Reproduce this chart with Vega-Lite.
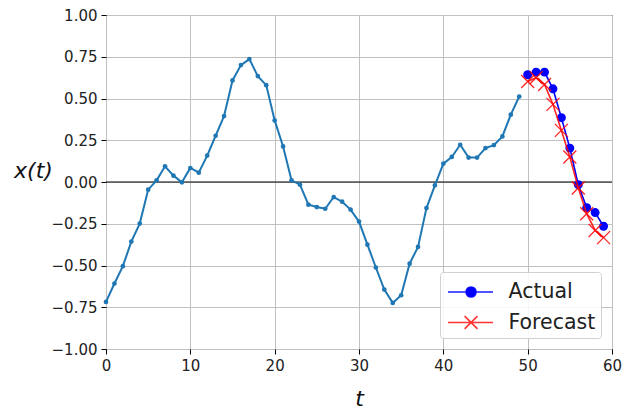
{
  "$schema": "https://vega.github.io/schema/vega-lite/v6.json",
  "width": 506,
  "height": 334,
  "autosize": {"type": "none"},
  "padding": {"left": 106, "top": 15, "right": 12, "bottom": 63},
  "background": "white",
  "config": {
    "view": {"stroke": "black", "strokeWidth": 1},
    "font": "DejaVu Sans",
    "axis": {
      "labelFont": "DejaVu Sans",
      "labelFontSize": 15,
      "labelColor": "#222",
      "labelFlush": false,
      "labelOverlap": false,
      "tickColor": "black",
      "tickSize": 5,
      "labelPadding": 4,
      "domain": false,
      "grid": true,
      "gridColor": "#c0c0c0",
      "gridWidth": 1,
      "titleFont": "DejaVu Sans",
      "titleFontSize": 22,
      "titleFontStyle": "italic",
      "titleFontWeight": "normal",
      "titleColor": "#111"
    }
  },
  "data": {
    "values": [
      {"t": 0, "v": -0.718, "s": "series"},
      {"t": 1, "v": -0.608, "s": "series"},
      {"t": 2, "v": -0.504, "s": "series"},
      {"t": 3, "v": -0.357, "s": "series"},
      {"t": 4, "v": -0.249, "s": "series"},
      {"t": 5, "v": -0.046, "s": "series"},
      {"t": 6, "v": 0.01, "s": "series"},
      {"t": 7, "v": 0.094, "s": "series"},
      {"t": 8, "v": 0.038, "s": "series"},
      {"t": 9, "v": -0.002, "s": "series"},
      {"t": 10, "v": 0.084, "s": "series"},
      {"t": 11, "v": 0.056, "s": "series"},
      {"t": 12, "v": 0.158, "s": "series"},
      {"t": 13, "v": 0.277, "s": "series"},
      {"t": 14, "v": 0.395, "s": "series"},
      {"t": 15, "v": 0.608, "s": "series"},
      {"t": 16, "v": 0.70, "s": "series"},
      {"t": 17, "v": 0.736, "s": "series"},
      {"t": 18, "v": 0.634, "s": "series"},
      {"t": 19, "v": 0.58, "s": "series"},
      {"t": 20, "v": 0.369, "s": "series"},
      {"t": 21, "v": 0.213, "s": "series"},
      {"t": 22, "v": 0.01, "s": "series"},
      {"t": 23, "v": -0.016, "s": "series"},
      {"t": 24, "v": -0.136, "s": "series"},
      {"t": 25, "v": -0.15, "s": "series"},
      {"t": 26, "v": -0.16, "s": "series"},
      {"t": 27, "v": -0.09, "s": "series"},
      {"t": 28, "v": -0.118, "s": "series"},
      {"t": 29, "v": -0.165, "s": "series"},
      {"t": 30, "v": -0.237, "s": "series"},
      {"t": 31, "v": -0.375, "s": "series"},
      {"t": 32, "v": -0.512, "s": "series"},
      {"t": 33, "v": -0.644, "s": "series"},
      {"t": 34, "v": -0.724, "s": "series"},
      {"t": 35, "v": -0.678, "s": "series"},
      {"t": 36, "v": -0.489, "s": "series"},
      {"t": 37, "v": -0.389, "s": "series"},
      {"t": 38, "v": -0.156, "s": "series"},
      {"t": 39, "v": -0.02, "s": "series"},
      {"t": 40, "v": 0.11, "s": "series"},
      {"t": 41, "v": 0.15, "s": "series"},
      {"t": 42, "v": 0.223, "s": "series"},
      {"t": 43, "v": 0.146, "s": "series"},
      {"t": 44, "v": 0.146, "s": "series"},
      {"t": 45, "v": 0.203, "s": "series"},
      {"t": 46, "v": 0.221, "s": "series"},
      {"t": 47, "v": 0.273, "s": "series"},
      {"t": 48, "v": 0.403, "s": "series"},
      {"t": 49, "v": 0.512, "s": "series"},
      {"t": 50, "v": 0.642, "s": "Actual"},
      {"t": 51, "v": 0.658, "s": "Actual"},
      {"t": 52, "v": 0.658, "s": "Actual"},
      {"t": 53, "v": 0.558, "s": "Actual"},
      {"t": 54, "v": 0.385, "s": "Actual"},
      {"t": 55, "v": 0.203, "s": "Actual"},
      {"t": 56, "v": -0.016, "s": "Actual"},
      {"t": 57, "v": -0.154, "s": "Actual"},
      {"t": 58, "v": -0.183, "s": "Actual"},
      {"t": 59, "v": -0.265, "s": "Actual"},
      {"t": 50, "v": 0.602, "s": "Forecast"},
      {"t": 51, "v": 0.624, "s": "Forecast"},
      {"t": 52, "v": 0.584, "s": "Forecast"},
      {"t": 53, "v": 0.465, "s": "Forecast"},
      {"t": 54, "v": 0.309, "s": "Forecast"},
      {"t": 55, "v": 0.15, "s": "Forecast"},
      {"t": 56, "v": -0.036, "s": "Forecast"},
      {"t": 57, "v": -0.19, "s": "Forecast"},
      {"t": 58, "v": -0.29, "s": "Forecast"},
      {"t": 59, "v": -0.333, "s": "Forecast"}
    ]
  },
  "encoding": {
    "x": {
      "field": "t", "type": "quantitative",
      "scale": {"domain": [0, 60], "nice": false, "zero": false},
      "axis": {"values": [0, 10, 20, 30, 40, 50, 60], "title": "t", "titleY": 49, "titleBaseline": "middle"}
    },
    "y": {
      "field": "v", "type": "quantitative",
      "scale": {"domain": [-1, 1], "nice": false},
      "axis": {
        "values": [-1, -0.75, -0.5, -0.25, 0, 0.25, 0.5, 0.75, 1],
        "format": ".2f",
        "title": "x(t)",
        "titleAngle": 0,
        "titleX": -73,
        "titleY": 155,
        "titleAlign": "center",
        "titleBaseline": "middle"
      }
    }
  },
  "layer": [
    {
      "data": {"values": [{"zero": 0}]},
      "mark": {"type": "rule", "color": "black", "strokeWidth": 1},
      "encoding": {"x": null, "y": {"field": "zero", "type": "quantitative"}}
    },
    {
      "transform": [{"filter": "datum.s === 'series'"}],
      "mark": {"type": "line", "color": "#1f77b4", "strokeWidth": 2, "point": {"filled": true, "size": 22, "color": "#1f77b4", "opacity": 1}}
    },
    {
      "transform": [{"filter": "datum.s === 'Actual'"}],
      "mark": {"type": "line", "strokeWidth": 1.6, "point": {"filled": true, "size": 80, "opacity": 1}},
      "encoding": {
        "color": {
          "field": "s", "type": "nominal",
          "scale": {"domain": ["Actual", "Forecast"], "range": ["#0000ff", "#ff0000"]},
          "legend": {
            "orient": "bottom-right",
            "offset": 11,
            "padding": 5,
            "title": null,
            "fillColor": "rgba(255,255,255,0.85)",
            "strokeColor": "#d0d0d0",
            "cornerRadius": 3,
            "labelFont": "DejaVu Sans",
            "labelFontSize": 20.5,
            "labelColor": "#222",
            "labelOffset": 33.5,
            "labelExpr": "datum.label + '\u00a0'",
            "rowPadding": 4.5,
            "symbolSize": 784,
            "symbolStrokeWidth": 1.6,
            "encode": {
              "symbols": {
                "update": {
                  "shape": {"signal": "datum.value === 'Actual' ? 'M-0.86,0L2.36,0M0.43,0A0.36,0.36 0 1,0 1.15,0A0.36,0.36 0 1,0 0.43,0Z' : 'M-0.86,0L2.36,0M0.33,-0.46L1.25,0.46M0.33,0.46L1.25,-0.46'"},
                  "fill": {"signal": "datum.value === 'Actual' ? '#0000ff' : 'transparent'"},
                  "stroke": {"signal": "datum.value === 'Actual' ? '#0000ff' : '#ff0000'"},
                  "opacity": {"value": 1},
                  "fillOpacity": {"value": 1},
                  "strokeOpacity": {"signal": "datum.value === 'Actual' ? 0.9 : 0.8"}
                }
              }
            }
          }
        }
      }
    },
    {
      "transform": [{"filter": "datum.s === 'Forecast'"}],
      "mark": {"type": "line", "strokeWidth": 1.6, "opacity": 0.85},
      "encoding": {
        "color": {"field": "s", "type": "nominal"}
      }
    },
    {
      "transform": [{"filter": "datum.s === 'Forecast'"}],
      "mark": {"type": "point", "shape": "M-1,-1L1,1M-1,1L1,-1", "size": 169, "filled": false, "stroke": "#ff0000", "strokeWidth": 1.3, "opacity": 0.85}
    }
  ]
}
